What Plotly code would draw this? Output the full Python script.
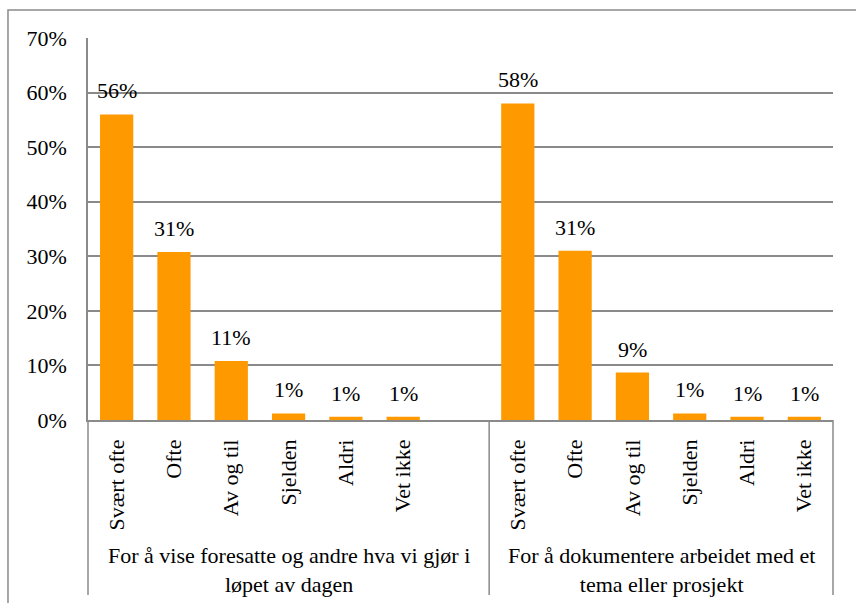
import plotly.graph_objects as go

# data
groups = ["For å vise foresatte og andre hva vi gjør i<br>løpet av dagen",
          "For å dokumentere arbeidet med et<br>tema eller prosjekt"]
answers = ["Svært ofte", "Ofte", "Av og til", "Sjelden", "Aldri", "Vet ikke"]
share_vise = [0.56, 0.308, 0.108, 0.012, 0.006, 0.006]
share_dok = [0.58, 0.31, 0.087, 0.012, 0.006, 0.006]
y_ticks = [0, 0.1, 0.2, 0.3, 0.4, 0.5, 0.6, 0.7]

font = "Liberation Serif"
fsize = 22
orange = "#FF9900"
grey = "#8a8a8a"

# category keys: first group gets an empty slot at its end, like the Excel chart
keys, labels, values = [], [], []
for a, v in zip(answers, share_vise):
    keys.append("A|" + a); labels.append(a); values.append(v)
keys.append("A|"); labels.append(""); values.append(None)
for a, v in zip(answers, share_dok):
    keys.append("B|" + a); labels.append(a); values.append(v)

fig = go.Figure()
fig.add_trace(go.Bar(x=keys, y=values, marker=dict(color=orange, line=dict(width=0)),
                     hoverinfo="skip"))

# value labels above the bars
for i, v in enumerate(values):
    if v is None:
        continue
    fig.add_annotation(x=i, y=v, text=f"{round(v * 100):.0f}%", showarrow=False,
                       yanchor="bottom", yshift=9, font=dict(family=font, size=fsize, color="black"))

# group labels under the answer labels
n_a = len(answers) + 1
centers = [(n_a - 1) / 2, n_a + (len(answers) - 1) / 2]
for c, g in zip(centers, groups):
    fig.add_annotation(x=c, xref="x", y=-0.393, yref="paper", text=g, showarrow=False,
                       yanchor="middle", font=dict(family=font, size=fsize, color="black"))

# boxes round the category labels, plus the outer chart border
line = dict(color=grey, width=1.5)
fig.add_shape(type="line", xref="paper", yref="paper", x0=0, x1=0, y0=0, y1=-0.458, line=line)
fig.add_shape(type="line", xref="paper", yref="paper", x0=1, x1=1, y0=0, y1=-0.458, line=line)
fig.add_shape(type="line", xref="x", yref="paper", x0=n_a - 0.5, x1=n_a - 0.5, y0=0, y1=-0.458, line=line)
fig.add_shape(type="rect", xref="paper", yref="paper", x0=-0.1074, x1=1.1, y0=-0.6, y1=1.0733,
              line=dict(color=grey, width=1.5))

fig.update_layout(
    width=856, height=603,
    margin=dict(l=88, r=23, t=38, b=183),
    paper_bgcolor="white", plot_bgcolor="white",
    showlegend=False, bargap=0.42,
    font=dict(family=font, size=fsize, color="black"),
)
fig.update_xaxes(type="category", categoryorder="array", categoryarray=keys,
                 range=[-0.5, len(keys) - 0.5], tickvals=keys, ticktext=labels,
                 tickangle=-90, ticks="", showline=True, linecolor=grey, linewidth=1.5,
                 showgrid=False, ticklabelstandoff=9, tickfont=dict(family=font, size=fsize))
fig.update_yaxes(range=[0, 0.7], tickvals=y_ticks, tickformat=".0%", showgrid=True,
                 gridcolor=grey, gridwidth=1.5, showline=True, linecolor=grey, linewidth=1.5,
                 ticks="", ticklabelstandoff=15, zeroline=False,
                 tickfont=dict(family=font, size=fsize))

fig.write_html("out.html", config={"displayModeBar": False},
               post_script="document.body.style.margin='0';")
